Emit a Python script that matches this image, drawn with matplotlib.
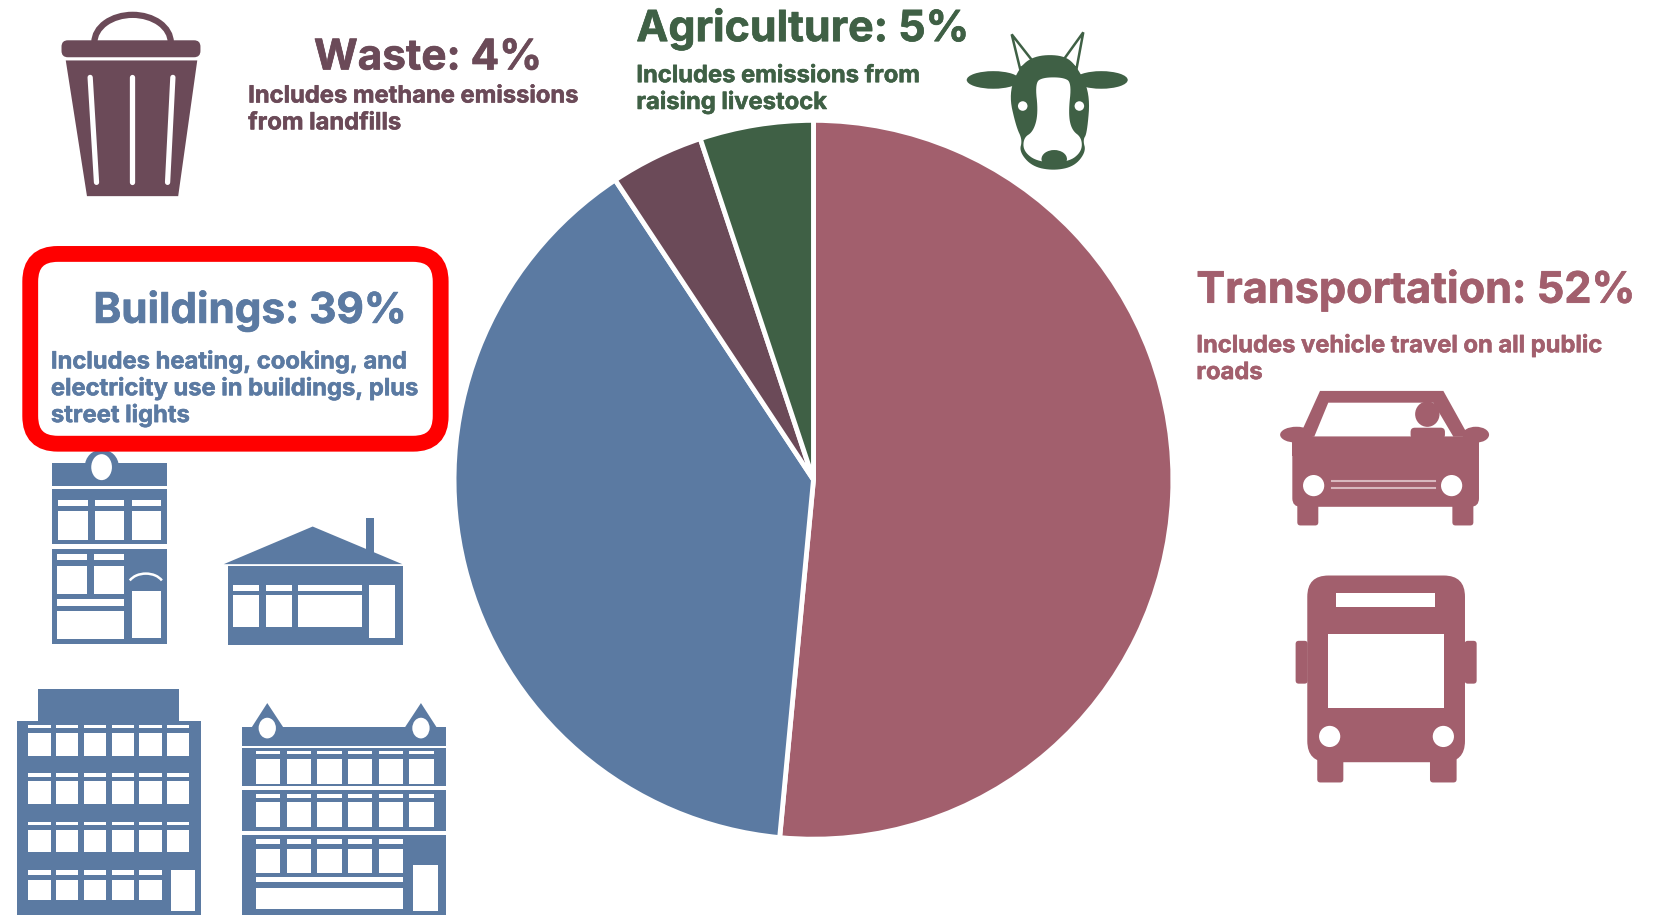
import matplotlib
matplotlib.use("Agg")
import matplotlib.pyplot as plt
import matplotlib.patheffects as pe
import numpy as np
from matplotlib.patches import Rectangle, Polygon, Ellipse, Arc, FancyBboxPatch

# pie values, clockwise from 12 o'clock
sectors = ['Transportation', 'Buildings', 'Waste', 'Agriculture']
shares = [51.5, 39.2, 4.2, 5.1]

BLUE = '#5B7AA2'
ROSE = '#A25F6D'
PLUM = '#6B4A58'
GREEN = '#3F6045'
sector_colors = [ROSE, BLUE, PLUM, GREEN]

titles = ['Transportation: 52%', 'Buildings: 39%', 'Waste: 4%', 'Agriculture: 5%']
notes = [
    ['Includes vehicle travel on all public', 'roads'],
    ['Includes heating, cooking, and', 'electricity use in buildings, plus', 'street lights'],
    ['Includes methane emissions', 'from landfills'],
    ['Includes emissions from', 'raising livestock'],
]

W, H = 1568, 863   # drawing units for the overlay, scaled to 1663x915 on save
fig = plt.figure(figsize=(16.63, 9.15), dpi=100)

# pie
cx, cy, r = 767, 452.5, 339
pax = fig.add_axes([(cx - r) / W, (H - cy - r) / H, 2 * r / W, 2 * r / H])
pax.pie(shares, colors=sector_colors, startangle=90, counterclock=False, radius=1,
        wedgeprops={'edgecolor': 'white', 'linewidth': 3.5})
pax.set_xlim(-1, 1)
pax.set_ylim(-1, 1)

# overlay in picture coordinates, y going down
ax = fig.add_axes([0, 0, 1, 1])
ax.set_xlim(0, W)
ax.set_ylim(H, 0)
ax.axis('off')
ax.patch.set_alpha(0)


def rect(x0, y0, x1, y1, color):
    ax.add_patch(Rectangle((x0, y0), x1 - x0, y1 - y0, fc=color, ec='none'))


def rrect(x0, y0, x1, y1, rad, color):
    ax.add_patch(FancyBboxPatch((x0 + rad, y0 + rad), x1 - x0 - 2 * rad, y1 - y0 - 2 * rad,
                                boxstyle='round,pad=%f,rounding_size=%f' % (rad, rad),
                                fc=color, ec='none'))


def poly(pts, color, **kw):
    ax.add_patch(Polygon(pts, closed=True, fc=color, ec='none', **kw))


def soft(pts, n=3):
    # corner cutting, rounds off the cow outline
    p = np.array(pts, dtype=float)
    for _ in range(n):
        q = np.roll(p, -1, axis=0)
        p = np.column_stack([0.75 * p + 0.25 * q, 0.25 * p + 0.75 * q]).reshape(-1, 2)
    return p


def oval(x, y, w, h, color):
    ax.add_patch(Ellipse((x, y), w, h, fc=color, ec='none'))


def windows(cols, y0, y1):
    for a, b in cols:
        rect(a, y0, b, y1, 'white')


# text
def label(x, y, s, size, color, heavy=0.5):
    ax.text(x, y, s, fontsize=size, color=color, family='Inter', fontweight='bold',
            ha='left', va='baseline',
            path_effects=[pe.withStroke(linewidth=heavy, foreground=color)])


def block(x, y, lines, color, size=17.1, pitch=25.3):
    for i, s in enumerate(lines):
        label(x, y + i * pitch, s, size, color, heavy=0.4)


label(1128, 285.5, titles[0], 31.1, ROSE)
block(1128, 332.2, notes[0], ROSE)
label(88, 304.5, titles[1], 30.4, BLUE)
block(48, 347.5, notes[1], BLUE)
label(296, 65.5, titles[2], 30.4, PLUM)
block(234, 96.7, notes[2], PLUM)
label(600, 38.8, titles[3], 30.9, GREEN)
block(600, 77.5, notes[3], GREEN)

# trash can
ax.add_patch(Arc((125, 40), 72, 52, theta1=180, theta2=360, ec=PLUM, lw=4.5))
rrect(58, 38, 189, 54, 6, PLUM)
poly([(62, 57), (186, 57), (168, 185), (82, 185)], PLUM)
for xa, xb in [(85, 91), (124, 124), (163, 158)]:
    ax.plot([xa, xb], [73, 172], color='white', lw=3.8, solid_capstyle='round')

# small townhouse
rect(48.7, 437, 157, 458, BLUE)
oval(96, 440, 32, 32, BLUE)
oval(95.8, 440.6, 19.5, 24.5, 'white')
rect(48.7, 461, 157, 513.3, BLUE)
c3 = [(55, 82.7), (89.6, 117.2), (124, 151.8)]
windows(c3, 471.4, 477)
windows(c3, 481.8, 509.2)
rect(48.7, 518, 157, 607.2, BLUE)
c2 = [(54, 81.7), (89, 116.6)]
windows(c2, 522.4, 528)
windows(c2, 533.4, 560)
windows([(54, 117)], 564.8, 572)
windows([(54, 117)], 576.7, 602.5)
windows([(124, 151.8)], 557, 602)
ax.add_patch(Arc((137.5, 553), 34, 24, theta1=200, theta2=340, ec='white', lw=1.8))

# house
poly([(211, 532.1), (294.8, 496.6), (379.3, 532.1)], BLUE)
rect(344.8, 489, 352.6, 522, BLUE)
rect(214.6, 534.3, 379.6, 608.1, BLUE)
ch = [(220, 244.5), (250.5, 275), (281.3, 341)]
windows(ch, 551.6, 557)
windows(ch, 561.6, 590.9)
windows([(348.2, 372.7)], 551.6, 601.9)

# office block
rect(36.1, 650, 168.8, 681, BLUE)
rect(15.7, 680.4, 189.2, 863, BLUE)
c6 = [(26.7, 48), (52.8, 73.9), (78.9, 100.3), (105.3, 126.3), (131.4, 152.7), (157.4, 178.5)]
for s0, s1, w0, w1 in [(684.2, 687, 691.7, 712.8), (729.5, 732.6, 737, 758), (775, 777.8, 782.6, 803.6)]:
    windows(c6, s0, s1)
    windows(c6, w0, w1)
windows(c6[:5], 820.9, 825)
windows(c6[:5], 829.7, 849.2)
windows([(160.9, 183.8)], 821, 859.5)

# long terrace
rect(228.5, 685.8, 420.2, 703.4, BLUE)
poly([(252, 663.1), (237.3, 686), (267.1, 686)], BLUE)
poly([(396.9, 663.1), (381.8, 686), (411.7, 686)], BLUE)
oval(252, 686.7, 16.3, 19.5, 'white')
oval(396.9, 686.7, 16.3, 19.5, 'white')
c6b = [(241, 264), (270.3, 293.2), (299.2, 322.1), (328.1, 351), (357.3, 380.3), (385.9, 409.2)]
rect(228.5, 705.9, 420.2, 741.7, BLUE)
windows(c6b, 708.1, 711)
windows(c6b, 715.6, 739.2)
rect(228.5, 745.5, 420.2, 784.1, BLUE)
windows(c6b, 749.3, 752.4)
windows(c6b, 756.8, 780.4)
rect(228.5, 787.9, 420.2, 863, BLUE)
windows(c6b[:5], 791.4, 796.4)
windows(c6b[:5], 800.8, 823.4)
windows([(241, 380.3)], 827.2, 832.2)
windows([(241, 380.3)], 837.6, 857.4)
windows([(389, 413.3)], 815.6, 859.6)

# car
poly([(1244.6, 368.7), (1360.9, 368.7), (1385, 412), (1225, 412)], ROSE)
poly([(1252.4, 379.8), (1351.4, 379.8), (1370.3, 411.8), (1239.2, 411.8)], 'white')
oval(1345.8, 390.6, 23, 24, ROSE)
rrect(1330, 403.4, 1362.4, 414, 4, ROSE)
oval(1222.5, 410, 31, 15, ROSE)
oval(1391.5, 410, 25, 15, ROSE)
rrect(1218.5, 411.8, 1394.5, 478, 8, ROSE)
rect(1218.5, 411.8, 1394.5, 430, ROSE)
rrect(1223.2, 470, 1243, 495.6, 3, ROSE)
rrect(1369.4, 470, 1389.2, 495.6, 3, ROSE)
oval(1238.6, 458, 20, 20, 'white')
oval(1368.7, 458, 20, 20, 'white')
for y in (453.2, 460):
    ax.plot([1256, 1353], [y, y], color='#D9B8BF', lw=1.5)

# bus
rrect(1232.6, 542.8, 1381.3, 718.9, 20, ROSE)
rrect(1242, 710, 1266.6, 738, 3, ROSE)
rrect(1348.3, 710, 1373.4, 738, 3, ROSE)
rrect(1221.6, 604.4, 1233, 644.8, 3, ROSE)
rrect(1381, 604.4, 1392.3, 644.8, 3, ROSE)
rect(1259.7, 559.6, 1353, 572.4, 'white')
rect(1252, 597.7, 1361.8, 667.7, 'white')
oval(1253.7, 694.6, 20, 20, 'white')
oval(1360.9, 694.6, 20, 20, 'white')

# cow
ax.add_patch(Polygon([(953.9, 32.4), (961.7, 64.4), (974, 58)], closed=True, fc='white', ec=GREEN, lw=1.8))
ax.add_patch(Polygon([(1021.4, 30.5), (1002.6, 56.6), (1015.1, 64.4)], closed=True, fc='white', ec=GREEN, lw=1.8))
oval(936.5, 75.4, 50, 16.6, GREEN)
oval(1038.3, 75.4, 50, 16.6, GREEN)
poly(soft([(961.7, 62), (977.4, 52), (1002.6, 52), (1015.1, 62), (1028, 88), (1025, 125.7),
           (1021, 132), (1024, 143), (1013, 157), (993.2, 161), (973, 157), (961, 143),
           (964, 132), (958, 119.4), (951, 88)]), GREEN)
poly(soft([(975.9, 78), (983.7, 73), (1002.6, 73), (1010.4, 78), (1007.3, 106.9), (1010.4, 122.6),
           (1020, 130), (1020, 143), (1007.3, 153), (979, 153), (965, 143), (965, 130),
           (974.3, 124.1), (979, 106.9)]), 'white')
oval(994, 150, 24, 17, GREEN)
oval(964.3, 100, 9, 9, 'white')
oval(1017.7, 100, 9, 9, 'white')

# red highlight round the Buildings note
ax.add_patch(FancyBboxPatch((28.5 + 26, 239.5 + 26), 387 - 52, 179 - 52,
                            boxstyle='round,pad=26,rounding_size=26',
                            fc='none', ec='#FF0000', lw=11.4))

fig.savefig('out.png', dpi=100, facecolor='white')
